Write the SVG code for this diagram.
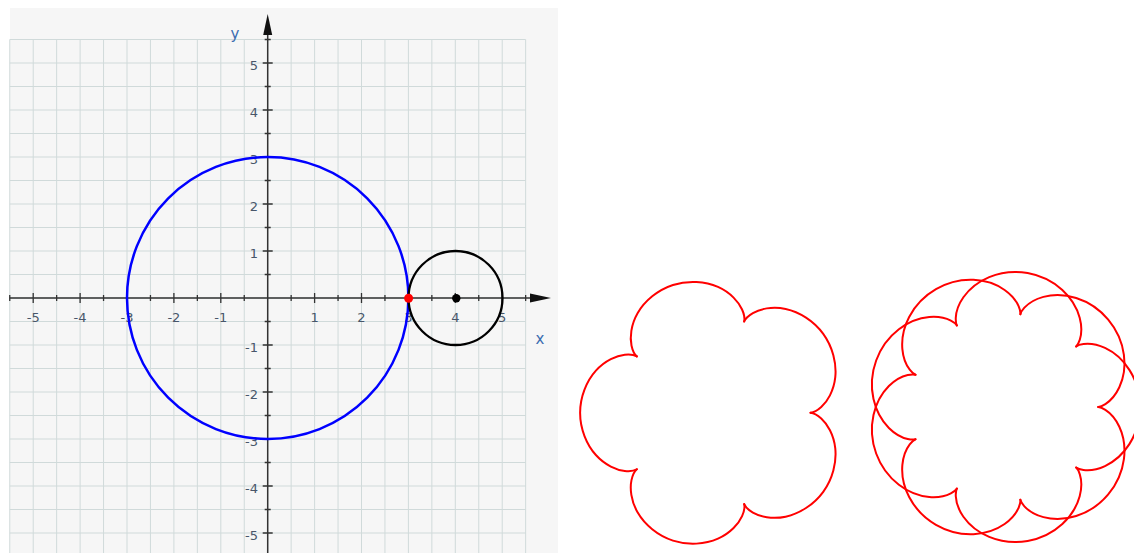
<svg xmlns="http://www.w3.org/2000/svg" xmlns:xlink="http://www.w3.org/1999/xlink" width="1134" height="553" viewBox="0 0 1134 553">
<style>
.grid{stroke:#d0dada;stroke-width:1;fill:none}
.axis{stroke:#333;stroke-width:1.5;fill:none}
.tick{stroke:#333;stroke-width:1.3;fill:none}
.num{font-family:"DejaVu Sans",Verdana,sans-serif;font-size:13px;fill:#48566a}
.xn{text-anchor:middle}
.yn{text-anchor:end}
.axl{font-family:"DejaVu Sans",Verdana,sans-serif;font-size:15px;fill:#3b6db0;text-anchor:middle}
.epi{stroke:#ff0000;stroke-width:2;fill:none;vector-effect:non-scaling-stroke;stroke-linejoin:round;stroke-linecap:round}
</style>
<defs>
<path id="lobe5" class="epi" d="M5,0 C5,0 5.2486,0.0161 5.5599,0.2964 C5.8712,0.5767 6.2145,1.1311 6.2903,1.8526 C6.3661,2.5742 6.1555,3.4367 5.6631,4.1145 C5.1707,4.7923 4.4154,5.2591 3.7058,5.4099 C2.9961,5.5608 2.3628,5.4056 2,5.1962 C1.6372,4.9867 1.5451,4.7553 1.5451,4.7553"/>
<path id="lobe45" class="epi" d="M4.5,0 C4.5,0 4.6363,0.0043 4.8429,0.1359 C5.0494,0.2675 5.3191,0.5313 5.5103,0.9414 C5.7016,1.3515 5.8062,1.905 5.7291,2.4912 C5.6519,3.0774 5.3906,3.6879 4.9793,4.1781 C4.5679,4.6684 4.0121,5.0316 3.4482,5.2094 C2.8843,5.3872 2.3211,5.3803 1.884,5.2631 C1.4469,5.146 1.1403,4.9263 0.9748,4.7457 C0.8093,4.5651 0.7814,4.4316 0.7814,4.4316"/>
</defs>
<rect x="0" y="0" width="1134" height="553" fill="#ffffff"/>
<g id="plot-background">
<rect x="10" y="8" width="548" height="545" fill="#f6f6f6"/>
</g>
<g id="grid">
<path class="grid" d="M9.75,39.5V553 M33.2,39.5V553 M56.65,39.5V553 M80.1,39.5V553 M103.55,39.5V553 M127,39.5V553 M150.45,39.5V553 M173.9,39.5V553 M197.35,39.5V553 M220.8,39.5V553 M244.25,39.5V553 M267.7,39.5V553 M291.15,39.5V553 M314.6,39.5V553 M338.05,39.5V553 M361.5,39.5V553 M384.95,39.5V553 M408.4,39.5V553 M431.85,39.5V553 M455.3,39.5V553 M478.75,39.5V553 M502.2,39.5V553 M525.65,39.5V553
M9.75,39.5H525.65 M9.75,63H525.65 M9.75,86.5H525.65 M9.75,110H525.65 M9.75,133.5H525.65 M9.75,157H525.65 M9.75,180.5H525.65 M9.75,204H525.65 M9.75,227.5H525.65 M9.75,251H525.65 M9.75,274.5H525.65 M9.75,298H525.65 M9.75,321.5H525.65 M9.75,345H525.65 M9.75,368.5H525.65 M9.75,392H525.65 M9.75,415.5H525.65 M9.75,439H525.65 M9.75,462.5H525.65 M9.75,486H525.65 M9.75,509.5H525.65 M9.75,533H525.65"/>
</g>
<g id="axes">
<path class="axis" d="M9.75,298H532 M267.7,553V33"/>
<polygon points="551,298 530,293.5 530,302.5" fill="#111"/>
<polygon points="267.7,14 263.2,35 272.2,35" fill="#111"/>
<path class="tick" d="M9.75,295V301 M33.2,293V303 M56.65,295V301 M80.1,293V303 M103.55,295V301 M127,293V303 M150.45,295V301 M173.9,293V303 M197.35,295V301 M220.8,293V303 M244.25,295V301 M291.15,295V301 M314.6,293V303 M338.05,295V301 M361.5,293V303 M384.95,295V301 M408.4,293V303 M431.85,295V301 M455.3,293V303 M478.75,295V301 M502.2,293V303 M525.65,295V301
M264.7,39.5H270.7 M262.7,63H272.7 M264.7,86.5H270.7 M262.7,110H272.7 M264.7,133.5H270.7 M262.7,157H272.7 M264.7,180.5H270.7 M262.7,204H272.7 M264.7,227.5H270.7 M262.7,251H272.7 M264.7,274.5H270.7 M264.7,321.5H270.7 M262.7,345H272.7 M264.7,368.5H270.7 M262.7,392H272.7 M264.7,415.5H270.7 M262.7,439H272.7 M264.7,462.5H270.7 M262.7,486H272.7 M264.7,509.5H270.7 M262.7,533H272.7"/>
<text class="axl" x="235" y="39">y</text>
<text class="axl" x="540" y="344">x</text>
<g id="x-labels">
<text class="num xn" x="33.2" y="321.5">-5</text>
<text class="num xn" x="80.1" y="321.5">-4</text>
<text class="num xn" x="127" y="321.5">-3</text>
<text class="num xn" x="173.9" y="321.5">-2</text>
<text class="num xn" x="220.8" y="321.5">-1</text>
<text class="num xn" x="314.6" y="321.5">1</text>
<text class="num xn" x="361.5" y="321.5">2</text>
<text class="num xn" x="408.4" y="321.5">3</text>
<text class="num xn" x="455.3" y="321.5">4</text>
<text class="num xn" x="502.2" y="321.5">5</text>
</g>
<g id="y-labels">
<text class="num yn" x="258" y="69.5">5</text>
<text class="num yn" x="258" y="116.5">4</text>
<text class="num yn" x="258" y="163.5">3</text>
<text class="num yn" x="258" y="210.5">2</text>
<text class="num yn" x="258" y="257.5">1</text>
<text class="num yn" x="258" y="351.5">-1</text>
<text class="num yn" x="258" y="398.5">-2</text>
<text class="num yn" x="258" y="445.5">-3</text>
<text class="num yn" x="258" y="492.5">-4</text>
<text class="num yn" x="258" y="539.5">-5</text>
</g>
</g>
<g id="fixed-circle">
<ellipse cx="267.7" cy="298" rx="140.7" ry="141" fill="none" stroke="#0000ff" stroke-width="2.5"/>
</g>
<g id="rolling-circle">
<circle cx="455.5" cy="298" r="47" fill="none" stroke="#000" stroke-width="2.3"/>
</g>
<g id="points">
<circle cx="408.6" cy="298.3" r="4.5" fill="#ff0000"/>
<circle cx="456.3" cy="298.3" r="4.2" fill="#000"/>
</g>
<g id="epicycloid-5" transform="translate(714.5,412.8) scale(19.2)">
<use xlink:href="#lobe5"/>
<use xlink:href="#lobe5" transform="rotate(72)"/>
<use xlink:href="#lobe5" transform="rotate(144)"/>
<use xlink:href="#lobe5" transform="rotate(216)"/>
<use xlink:href="#lobe5" transform="rotate(288)"/>
</g>
<g id="epicycloid-4-5" transform="translate(1004,407) scale(20.93)">
<use xlink:href="#lobe45"/>
<use xlink:href="#lobe45" transform="rotate(40)"/>
<use xlink:href="#lobe45" transform="rotate(80)"/>
<use xlink:href="#lobe45" transform="rotate(120)"/>
<use xlink:href="#lobe45" transform="rotate(160)"/>
<use xlink:href="#lobe45" transform="rotate(200)"/>
<use xlink:href="#lobe45" transform="rotate(240)"/>
<use xlink:href="#lobe45" transform="rotate(280)"/>
<use xlink:href="#lobe45" transform="rotate(320)"/>
</g>
</svg>
